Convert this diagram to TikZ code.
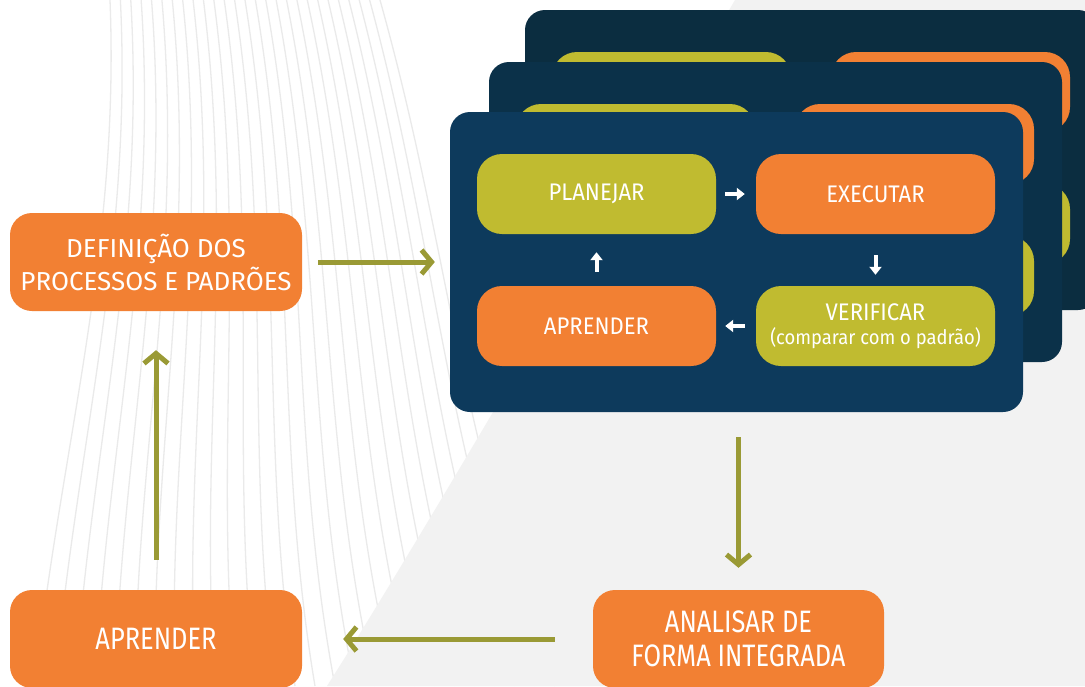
\documentclass[tikz,border=0pt]{standalone}
\usepackage{fontspec}
\setmainfont{Fira Sans}
\newfontfamily\condfont{Fira Sans}[FakeStretch=0.82]
\newfontfamily\cardfont{Fira Sans}[FakeStretch=0.92]
\usetikzlibrary{arrows.meta}
\definecolor{orng}{HTML}{F28033}
\definecolor{olv}{HTML}{C0BB30}
\definecolor{arr}{HTML}{9A9A35}
\definecolor{navyA}{HTML}{0D3A5C}
\definecolor{navyB}{HTML}{0B3149}
\definecolor{navyC}{HTML}{0B2D40}
\definecolor{bggray}{HTML}{F2F2F2}
\definecolor{fanline}{HTML}{EAEAEA}
\tikzset{
  cardbox/.style={rounded corners=20pt, minimum width=573pt, minimum height=300pt, inner sep=0pt},
  stepbox/.style={rounded corners=25pt, minimum width=239pt, minimum height=80pt, inner sep=0pt,
    text=white, align=center, font=\cardfont\fontsize{24}{27}\selectfont},
  bigbox/.style={rounded corners=22pt, minimum width=292pt, minimum height=98pt, inner sep=0pt,
    fill=orng, text=white, align=center},
  bigarrow/.style={draw=arr, line width=5pt, -{Straight Barb[length=10pt,width=24pt]}},
  smallarrow/.style={draw=white, line width=4pt, -{Triangle[length=8pt,width=12pt]}},
  fan/.style={draw=fanline, line width=1.3pt}
}
\begin{document}
\begin{tikzpicture}[x=1pt,y=-1pt]
\useasboundingbox (0,0) rectangle (1085,686);
\clip (0,0) rectangle (1085,686);
\fill[white] (0,0) rectangle (1085,686);
% background fan of thin lines
\foreach \i in {0,...,26}{
  \pgfmathsetmacro\t{\i/26}
  \draw[fan] ({110+270*\t},0) .. controls ({120+330*\t},250) and ({60+400*\t},450) .. ({35+520*\t},686);
}
% grey region
\fill[bggray] (735,0) -- (1085,0) -- (1085,686) -- (327,686) .. controls (420,540) and (600,230) .. (735,0) -- cycle;
% back card
\node[cardbox, fill=navyC] (cardC) at (811.5,160) {};
\node[stepbox, fill=olv]  (plC) at (671.5,92) {};
\node[stepbox, fill=orng] (exC) at (950.5,92) {};
\node[stepbox, fill=orng] (apC) at (671.5,224) {};
\node[stepbox, fill=olv]  (veC) at (950.5,224) {};
% middle card
\node[cardbox, fill=navyB] (cardB) at (775.5,212) {};
\node[stepbox, fill=olv]  (plB) at (635.5,144) {};
\node[stepbox, fill=orng] (exB) at (914.5,144) {};
\node[stepbox, fill=orng] (apB) at (635.5,276) {};
\node[stepbox, fill=olv]  (veB) at (914.5,276) {};
% front card
\node[cardbox, fill=navyA] (card) at (736.5,262) {};
\node[stepbox, fill=olv]  (pl) at (596.5,194) {PLANEJAR};
\node[stepbox, fill=orng] (ex) at (875.5,194) {EXECUTAR};
\node[stepbox, fill=orng] (ap) at (596.5,326) {APRENDER};
\node[stepbox, fill=olv]  (ve) at (875.5,326) {VERIFICAR\\[-3pt]{\fontsize{20}{22}\selectfont (comparar com o padrão)}};
\draw[smallarrow, shorten <=9pt, shorten >=11pt] (pl) -- (ex);
\draw[smallarrow, shorten <=21pt, shorten >=11pt] (ex) -- (ve);
\draw[smallarrow, shorten <=11pt, shorten >=9pt] (ve) -- (ap);
\draw[smallarrow, shorten <=14pt, shorten >=18pt] (ap) -- (pl);
% outer boxes
\node[bigbox, font=\fontsize{26}{33}\selectfont] (def) at (156,262) {DEFINIÇÃO DOS\\PROCESSOS E PADRÕES};
\node[bigbox, font=\condfont\fontsize{31}{34}\selectfont] (apr) at (156,639) {APRENDER};
\node[bigbox, minimum width=291pt, font=\condfont\fontsize{31}{34}\selectfont] (ana) at (738.5,639) {ANALISAR DE\\FORMA INTEGRADA};
% big arrows
\draw[bigarrow, shorten <=16pt, shorten >=15pt] (def) -- (card);
\draw[bigarrow, shorten <=25pt, shorten >=22pt] (card.south -| ana.north) -- (ana.north);
\draw[bigarrow, shorten <=38pt, shorten >=41pt] (ana) -- (apr);
\draw[bigarrow, shorten <=30pt, shorten >=39pt] (apr) -- (def);
\end{tikzpicture}
\end{document}
